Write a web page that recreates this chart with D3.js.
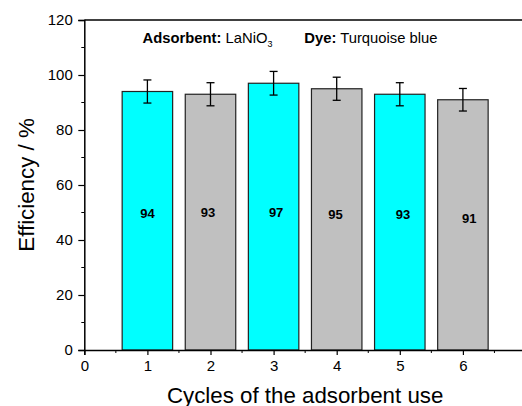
<!DOCTYPE html>
<html><head><meta charset="utf-8">
<script src="https://cdn.jsdelivr.net/npm/d3@7"></script>
<style>body{margin:0;background:#fff}svg{display:block}text{font-family:"Liberation Sans",Arial,sans-serif}</style>
</head><body><svg id="c" width="522" height="406"></svg>
<script>
const cycles = [1, 2, 3, 4, 5, 6];
const efficiency = [94, 93, 97, 95, 93, 91];
const errors = [4.2, 4.2, 4.3, 4.2, 4.2, 4.1];
const barColors = ["#00FFFF", "#C0C0C0", "#00FFFF", "#C0C0C0", "#00FFFF", "#C0C0C0"];
const labelDx = [0, -0.04, 0.04, -0.02, 0.05, 0.1];
const labelY = [49.5, 50.2, 50, 49.2, 49.2, 47.8];
const xTicks = [0, 1, 2, 3, 4, 5, 6];
const yTicks = [0, 20, 40, 60, 80, 100, 120];

const svg = d3.select("#c");
const x = d3.scaleLinear().domain([0, 7]).range([84.3, 526]);
const y = d3.scaleLinear().domain([0, 120]).range([350, 20]);
const bw = x(0.8) - x(0);

// bars
svg.selectAll("rect.bar").data(cycles).enter().append("rect")
  .attr("x", (d) => x(d - 0.4)).attr("y", (d, i) => y(efficiency[i]))
  .attr("width", bw).attr("height", (d, i) => y(0) - y(efficiency[i]))
  .attr("fill", (d, i) => barColors[i]).attr("stroke", "#222").attr("stroke-width", 1.2);

// error bars
const eb = svg.selectAll("g.eb").data(cycles).enter().append("g")
  .attr("stroke", "#000").attr("stroke-width", 1.3);
eb.append("line").attr("x1", d => x(d)).attr("x2", d => x(d))
  .attr("y1", (d, i) => y(efficiency[i] + errors[i])).attr("y2", (d, i) => y(efficiency[i] - errors[i]));
eb.append("line").attr("x1", d => x(d) - 4).attr("x2", d => x(d) + 4)
  .attr("y1", (d, i) => y(efficiency[i] + errors[i])).attr("y2", (d, i) => y(efficiency[i] + errors[i]));
eb.append("line").attr("x1", d => x(d) - 4).attr("x2", d => x(d) + 4)
  .attr("y1", (d, i) => y(efficiency[i] - errors[i])).attr("y2", (d, i) => y(efficiency[i] - errors[i]));

// value labels
svg.selectAll("text.val").data(cycles).enter().append("text")
  .attr("x", (d, i) => x(d + labelDx[i])).attr("y", (d, i) => y(labelY[i]))
  .attr("dy", "0.35em").attr("text-anchor", "middle")
  .attr("font-size", 13).attr("font-weight", "bold").text((d, i) => efficiency[i]);

// axes
const yAxis = d3.axisLeft(y).tickValues(yTicks).tickSize(6).tickPadding(5.5);
const gy = svg.append("g").attr("transform", `translate(${x(0)},0)`).call(yAxis);
gy.selectAll("text").attr("font-size", 15).attr("fill", "#000");
gy.select(".domain").attr("stroke-width", 1.5);
gy.selectAll(".tick line").attr("stroke-width", 1.2);
const yMinor = d3.range(10, 120, 20);
svg.append("g").selectAll("line").data(yMinor).enter().append("line")
  .attr("x1", x(0) - 3).attr("x2", x(0)).attr("y1", d => y(d)).attr("y2", d => y(d))
  .attr("stroke", "#000").attr("stroke-width", 1);

const xAxis = d3.axisBottom(x).tickValues(xTicks).tickSize(5).tickPadding(5).tickFormat(d3.format("d"));
const gx = svg.append("g").attr("transform", `translate(0,${y(0)})`).call(xAxis);
gx.selectAll("text").attr("font-size", 15).attr("fill", "#000");
gx.select(".domain").attr("stroke-width", 1.5);
gx.selectAll(".tick line").attr("stroke-width", 1.2);
const xMinor = d3.range(0.5, 7, 1);
svg.append("g").selectAll("line").data(xMinor).enter().append("line")
  .attr("x1", d => x(d)).attr("x2", d => x(d)).attr("y1", y(0)).attr("y2", y(0) + 3)
  .attr("stroke", "#000").attr("stroke-width", 1);

// top frame line
svg.append("line").attr("x1", x(0)).attr("x2", x(7)).attr("y1", y(120)).attr("y2", y(120))
  .attr("stroke", "#000").attr("stroke-width", 1.5);

// axis titles
svg.append("text").attr("x", (x(0) + x(7)) / 2).attr("y", 402.5).attr("text-anchor", "middle")
  .attr("font-size", 22.3).text("Cycles of the adsorbent use");
svg.append("text").attr("transform", `translate(34,${y(60)}) rotate(-90)`).attr("text-anchor", "middle")
  .attr("font-size", 22.3).text("Efficiency / %");

// annotation
const ann = svg.append("text").attr("x", 142.5).attr("y", 43).attr("font-size", 14.8);
ann.append("tspan").attr("font-weight", "bold").text("Adsorbent:");
ann.append("tspan").text(" LaNiO");
ann.append("tspan").attr("font-size", 9).attr("dy", 4).text("3");
const ann2 = svg.append("text").attr("x", 304.3).attr("y", 43).attr("font-size", 14.8);
ann2.append("tspan").attr("font-weight", "bold").text("Dye:");
ann2.append("tspan").text(" Turquoise blue");
</script></body></html>
